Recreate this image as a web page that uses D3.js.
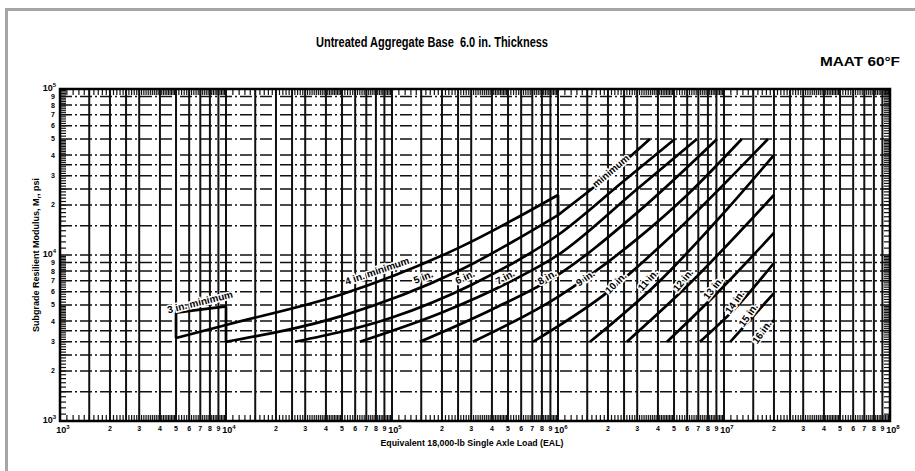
<!DOCTYPE html>
<meta charset="utf-8">
<style>
body { margin: 0; background: #fff; }
svg { display: block; font-family: "Liberation Sans", Arial, sans-serif; font-weight: bold; }
.vgrid line { stroke: #111; stroke-width: 2; }
.hgrid line { stroke: #111; stroke-width: 1.5; stroke-dasharray: 12,3,2,3; }
.tick line { stroke: #111; stroke-width: 1.2; }
.curve { fill: none; stroke: #000; stroke-width: 2.7; }
.lbl { font-size: 10px; paint-order: stroke; stroke: #fff; stroke-width: 3px; }
</style>
<body>
<svg width="915" height="471"></svg>
<script src="https://d3js.org/d3.v7.min.js"></script>
<script>

// decades and grid multipliers
var decadesX = [1e3, 1e4, 1e5, 1e6, 1e7];
var decadesY = [1e3, 1e4];
var vGridMult = [1.5, 2, 2.5, 3, 4, 5, 6, 7, 8, 9];
var hGridMult = [1.5, 2, 2.5, 3, 3.5, 4, 5, 6, 7, 8, 9];
var digitLabels = ["2", "3", "4", "5", "6", "7", "8", "9"];

// curves: [EAL, Mr psi]
var min3Upper = [[5000, 4500], [10000, 4900]];
var min3Left = [[5000, 3160], [5000, 4500]];
var min3Right = [[10000, 3000], [10000, 4900]];
var min4 = [[5000, 3160], [10000, 3790], [50000, 5800], [250000, 11000], [1000000, 23000]];
var min4Drop = [[1000000, 17400], [1000000, 23000]];
var in5 = [[10000, 3000], [50000, 4300], [250000, 8000], [1000000, 17400]];
var min5 = [[1000000, 17400], [2000000, 30000], [3580000, 50000]];
var in6 = [[26000, 3000], [100000, 4200], [300000, 6600], [1000000, 13200], [2500000, 28000], [5070000, 50000]];
var in7 = [[64000, 3000], [200000, 4500], [500000, 6800], [1000000, 10000], [3000000, 25000], [6870000, 50000]];
var in8 = [[147000, 3000], [400000, 4700], [1000000, 7600], [3000000, 18000], [9080000, 50000]];
var in9 = [[307000, 3000], [1000000, 5600], [3000000, 12500], [6000000, 23000], [12800000, 50000]];
var in10 = [[706000, 3000], [2000000, 6000], [5000000, 13500], [18400000, 50000]];
var in11 = [[1560000, 3000], [4000000, 6800], [10000000, 18000], [20000000, 40000]];
var in12 = [[2600000, 3000], [6000000, 6500], [20000000, 23000]];
var in13 = [[4540000, 3000], [10000000, 6500], [20000000, 13600]];
var in14 = [[7160000, 3000], [12000000, 4900], [20000000, 8950]];
var in15 = [[10900000, 3000], [20000000, 5900]];
var in16 = [[15800000, 3000], [20000000, 4060]];

var curves = [min3Upper, min3Left, min3Right, min4, min4Drop, in5, min5, in6, in7, in8,
              in9, in10, in11, in12, in13, in14, in15, in16];

// curve labels: text, EAL, Mr, rotation
var labelText = ["3 in. minimum", "4 in. minimum", "5 in.", "6 in.", "7 in.", "8 in.", "9 in.", "minimum",
                 "10 in.", "11 in.", "12 in.", "13 in.", "14 in.", "15 in.", "16 in."];
var labelEAL = [6970, 81300, 154000, 275000, 480000, 859000, 1460000, 2080000,
                2230000, 3480000, 5660000, 8590000, 11600000, 14000000, 16900000];
var labelMr = [5210, 8020, 7360, 7360, 7360, 7360, 7260, 32100,
               6780, 7060, 7060, 6320, 5210, 4350, 3435];
var labelAngle = [-14, -19, -22, -25, -28, -30, -35, -40, -45, -48, -50, -52, -55, -55, -55];

var margin = {top: 89, right: 25, bottom: 50, left: 60},
    width = 890 - margin.left,
    height = 421 - margin.top;

var x = d3.scaleLog().domain([1e3, 1e8]).range([0, width]);
var y = d3.scaleLog().domain([1e3, 1e5]).range([height, 0]);

var svg = d3.select("svg");

// grey frame of the scan
svg.append("path")
    .attr("d", "M6.5,471V9.5H915")
    .attr("fill", "none")
    .attr("stroke", "#a6a6a6")
    .attr("stroke-width", 3);

svg.append("text")
    .attr("x", 432).attr("y", 47)
    .attr("text-anchor", "middle")
    .attr("textLength", 232).attr("lengthAdjust", "spacingAndGlyphs")
    .style("font-size", "14.5px")
    .text("Untreated Aggregate Base\u00a0\u00a06.0 in. Thickness");

svg.append("text")
    .attr("x", 900).attr("y", 66)
    .attr("text-anchor", "end")
    .attr("textLength", 80).attr("lengthAdjust", "spacingAndGlyphs")
    .style("font-size", "13.5px")
    .text("MAAT 60°F");

var g = svg.append("g")
    .attr("transform", "translate(" + margin.left + "," + margin.top + ")");

// vertical grid
var vVals = [];
decadesX.forEach(function(d, i) {
  vGridMult.forEach(function(m) { vVals.push(d * m); });
  if (i > 0) vVals.push(d);
});
g.append("g").attr("class", "vgrid")
  .selectAll("line").data(vVals).enter().append("line")
    .attr("x1", function(d) { return x(d); })
    .attr("x2", function(d) { return x(d); })
    .attr("y1", 0).attr("y2", height);

// horizontal grid
var hVals = [1e4];
decadesY.forEach(function(d) {
  hGridMult.forEach(function(m) { hVals.push(d * m); });
});
g.append("g").attr("class", "hgrid")
  .selectAll("line").data(hVals).enter().append("line")
    .attr("x1", 0).attr("x2", width)
    .attr("y1", function(d) { return y(d); })
    .attr("y2", function(d) { return y(d); });

// fine ticks on all four sides
var minor = d3.range(1.1, 5, 0.1).concat(d3.range(5.2, 10, 0.2));
var xTicks = [], yTicks = [];
decadesX.forEach(function(d) { minor.forEach(function(m) { xTicks.push(d * m); }); });
decadesY.forEach(function(d) { minor.forEach(function(m) { yTicks.push(d * m); }); });
var tk = g.append("g").attr("class", "tick");
tk.selectAll(".tb").data(xTicks).enter().append("line")
    .attr("x1", function(d) { return x(d); }).attr("x2", function(d) { return x(d); })
    .attr("y1", height).attr("y2", height - 6);
tk.selectAll(".tt").data(xTicks).enter().append("line")
    .attr("x1", function(d) { return x(d); }).attr("x2", function(d) { return x(d); })
    .attr("y1", 0).attr("y2", 6);
tk.selectAll(".tl").data(yTicks).enter().append("line")
    .attr("y1", function(d) { return y(d); }).attr("y2", function(d) { return y(d); })
    .attr("x1", 0).attr("x2", 6);
tk.selectAll(".tr").data(yTicks).enter().append("line")
    .attr("y1", function(d) { return y(d); }).attr("y2", function(d) { return y(d); })
    .attr("x1", width).attr("x2", width - 6);

// plot border
g.append("rect")
    .attr("width", width).attr("height", height)
    .attr("fill", "none").attr("stroke", "#000").attr("stroke-width", 2.5);

// curves
var line = d3.line()
    .x(function(d) { return x(d[0]); })
    .y(function(d) { return y(d[1]); })
    .curve(d3.curveMonotoneX);
var straight = d3.line()
    .x(function(d) { return x(d[0]); })
    .y(function(d) { return y(d[1]); });

g.selectAll(".curve").data(curves).enter().append("path")
    .attr("class", "curve")
    .attr("d", function(d) { return d[0][0] === d[1][0] ? straight(d) : line(d); });

// curve labels
g.selectAll(".lbl").data(labelText).enter().append("text")
    .attr("class", "lbl")
    .attr("text-anchor", "middle")
    .attr("dy", "0.35em")
    .attr("transform", function(d, i) {
      return "translate(" + x(labelEAL[i]) + "," + y(labelMr[i]) + ") rotate(" + labelAngle[i] + ")";
    })
    .text(function(d) { return d; });

// x tick labels
decadesX.forEach(function(d) {
  digitLabels.forEach(function(s, j) {
    g.append("text")
        .attr("x", x(d * (j + 2))).attr("y", height + 10)
        .attr("text-anchor", "middle")
        .style("font-size", "7px")
        .text(s);
  });
});
decadesX.concat([1e8]).forEach(function(d) {
  var t = g.append("text")
      .attr("x", x(d) + 3).attr("y", height + 12)
      .attr("text-anchor", "middle")
      .style("font-size", "9px");
  t.append("tspan").text("10");
  t.append("tspan").attr("dy", -4).style("font-size", "6px").text(String(Math.round(Math.log10(d))));
});

// y tick labels
decadesY.forEach(function(d) {
  digitLabels.forEach(function(s, j) {
    g.append("text")
        .attr("x", -5).attr("y", y(d * (j + 2)))
        .attr("dy", "0.35em")
        .attr("text-anchor", "end")
        .style("font-size", "7px")
        .text(s);
  });
});
[1e3, 1e4, 1e5].forEach(function(d) {
  var t = g.append("text")
      .attr("x", -4).attr("y", y(d) + 2)
      .attr("text-anchor", "end")
      .style("font-size", "9px");
  t.append("tspan").text("10");
  t.append("tspan").attr("dy", -4).style("font-size", "6px").text(String(Math.round(Math.log10(d))));
});

// axis titles
g.append("text")
    .attr("x", 412).attr("y", height + 25)
    .attr("text-anchor", "middle")
    .attr("textLength", 183).attr("lengthAdjust", "spacingAndGlyphs")
    .style("font-size", "9px")
    .text("Equivalent 18,000-lb Single Axle Load (EAL)");

var yt = g.append("text")
    .attr("transform", "translate(-21," + (height / 2) + ") rotate(-90)")
    .attr("text-anchor", "middle")
    .style("font-size", "9px");
yt.append("tspan").text("Subgrade Resilient Modulus, M");
yt.append("tspan").attr("dy", 2).style("font-size", "6px").text("r");
yt.append("tspan").attr("dy", -2).text(", psi");

</script>
</body>
